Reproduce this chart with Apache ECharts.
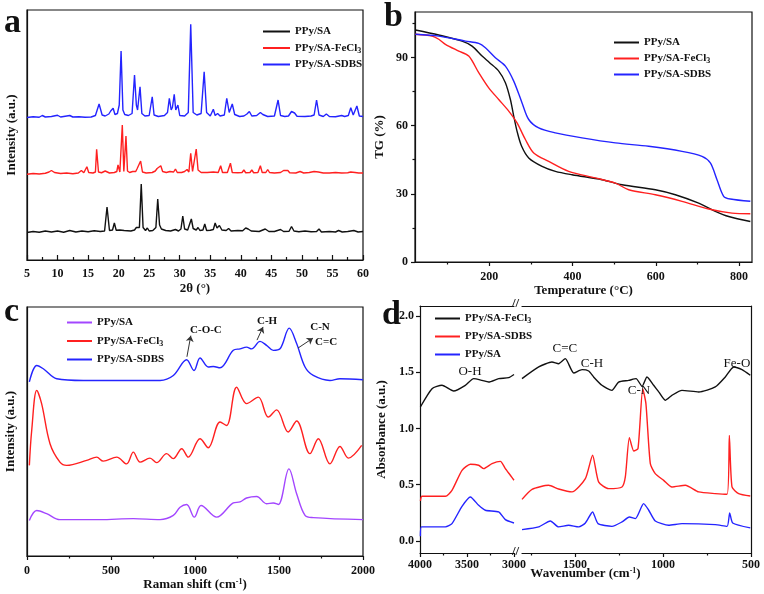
<!DOCTYPE html>
<html><head><meta charset="utf-8">
<script src="https://cdn.jsdelivr.net/npm/echarts@6/dist/echarts.min.js"></script>
<style>html,body{margin:0;padding:0;background:#fff}#c{width:764px;height:594px}</style>
</head><body><div id="c"></div>
<script>
// ---------- (a) XRD ----------
const xrdTicks = [5,10,15,20,25,30,35,40,45,50,55,60];
const xrdMinorTicks = [7.5,12.5,17.5,22.5,27.5,32.5,37.5,42.5,47.5,52.5,57.5];
const xrdSA = [[5,11.0],[6,11.4],[7,11.1],[8,11.6],[9,11.2],[10,11.6],[11,11.1],[12,11.8],[13,11.2],[14,11.6],[15,11.3],[16,11.7],[17,11.4],[17.7,11.6],[18.1,21.2],[18.5,11.8],[19.0,12.0],[19.3,14.8],[19.6,11.9],[20.2,12.0],[20.5,12.8],[20.9,11.8],[22.0,11.6],[22.6,12.0],[22.9,13.0],[23.2,12.2],[23.4,13.0],[23.7,30.4],[24.0,13.0],[24.4,11.8],[24.7,12.8],[25.0,11.6],[25.6,11.8],[26.1,13.0],[26.4,24.4],[26.7,14.0],[27.0,12.4],[27.3,13.0],[27.7,11.8],[28.5,11.6],[29.3,12.2],[29.8,11.6],[30.2,12.4],[30.5,17.6],[30.8,12.4],[31.3,12.0],[31.6,12.8],[31.9,16.4],[32.2,12.6],[32.7,12.0],[33.0,13.0],[33.3,11.8],[33.8,12.0],[34.1,14.4],[34.4,11.8],[35.0,11.9],[35.5,12.2],[35.8,14.8],[36.1,12.8],[36.5,13.8],[36.9,12.0],[37.6,11.8],[38.0,12.6],[38.4,11.6],[39.5,11.8],[40.3,11.7],[40.8,12.8],[41.2,12.4],[41.7,11.6],[43.0,11.4],[44.0,12.4],[44.6,11.4],[45.5,11.4],[46.5,12.2],[47.0,11.4],[47.9,11.5],[48.3,13.4],[48.7,11.6],[49.5,11.3],[50.5,11.6],[51.5,11.3],[52.4,11.4],[52.8,12.4],[53.2,11.2],[54.5,11.4],[55.5,11.2],[56.0,11.8],[56.6,11.2],[57.5,11.4],[58.5,11.8],[59.2,11.2],[60,11.4]];
const xrdFeCl3 = [[5,34.3],[6,34.6],[7,34.4],[8,34.7],[8.6,35.2],[9.0,35.8],[9.5,35.0],[10.5,34.6],[11.5,34.8],[12.5,34.5],[13.4,34.8],[13.9,35.8],[14.3,34.9],[14.6,35.2],[14.8,37.3],[15.1,35.0],[15.8,34.8],[16.2,35.2],[16.4,44.3],[16.7,35.2],[17.2,34.9],[17.8,35.6],[18.1,35.4],[18.5,34.8],[19.3,35.0],[19.7,35.4],[19.9,38.0],[20.2,35.2],[20.35,35.6],[20.6,54.0],[20.85,35.4],[21.0,36.0],[21.2,49.6],[21.45,35.6],[21.8,35.0],[22.3,35.4],[22.6,36.0],[22.8,35.4],[23.0,36.4],[23.3,35.6],[23.6,39.6],[23.9,35.2],[24.5,34.8],[25.5,35.0],[26.0,35.6],[26.3,36.6],[26.6,35.8],[26.9,37.7],[27.2,35.4],[27.8,35.0],[28.4,35.4],[28.7,36.2],[29.0,35.2],[29.3,36.4],[29.6,35.0],[30.3,35.0],[30.8,35.4],[31.2,36.2],[31.5,35.2],[31.8,42.7],[32.1,35.4],[32.4,35.8],[32.7,44.4],[33.0,36.0],[33.5,35.0],[34.5,35.0],[35.5,35.2],[36.3,35.0],[36.7,37.7],[37.0,35.0],[37.8,35.0],[38.3,38.7],[38.6,35.0],[39.5,34.9],[40.2,35.0],[40.5,36.0],[40.8,34.9],[41.5,35.0],[41.8,36.0],[42.1,34.9],[42.8,35.0],[43.2,37.7],[43.5,35.0],[44.1,35.0],[44.4,36.2],[44.7,35.0],[45.5,34.8],[46.5,35.0],[47.0,35.8],[47.3,35.0],[47.7,35.8],[48.0,34.9],[49.0,34.8],[49.7,35.4],[50.3,34.8],[51.2,35.0],[52.0,35.4],[52.7,35.2],[53.5,34.8],[54.5,34.8],[55.5,35.0],[56.5,34.8],[57.5,34.9],[58.0,35.2],[58.3,35.8],[58.7,35.0],[59.3,34.8],[60,34.8]];
const xrdSDBS = [[5,57.0],[6,57.3],[7,57.1],[7.5,57.8],[8,57.2],[9,57.4],[10,57.9],[10.5,57.2],[11.5,57.6],[12,57.8],[12.5,57.2],[13.5,57.3],[14.5,57.1],[15.5,57.2],[16.2,57.8],[16.8,62.4],[17.3,58.0],[17.8,57.6],[18.4,58.4],[18.7,59.6],[18.95,58.8],[19.1,60.7],[19.4,58.2],[19.8,58.6],[20.1,62.0],[20.4,83.6],[20.7,60.0],[21.0,58.2],[21.6,57.8],[22.2,58.6],[22.6,74.0],[22.9,62.0],[23.1,60.0],[23.5,69.3],[23.8,58.6],[24.3,57.6],[25.0,57.8],[25.5,65.3],[25.8,58.0],[26.5,57.4],[27.5,57.8],[28.0,59.0],[28.3,64.7],[28.6,60.0],[28.8,61.0],[29.1,66.3],[29.35,60.0],[29.7,62.0],[30.0,57.8],[30.8,57.6],[31.4,59.0],[31.8,94.3],[32.2,59.0],[32.8,58.0],[33.5,58.6],[34.0,75.3],[34.4,59.0],[35.0,57.6],[35.5,60.3],[35.8,57.8],[36.2,58.6],[36.6,57.6],[37.3,58.0],[37.7,64.7],[38.1,59.0],[38.6,62.4],[39.0,58.2],[39.8,57.4],[40.5,57.6],[41.0,58.4],[41.4,59.4],[41.8,57.6],[42.6,57.8],[43.2,59.0],[43.6,58.2],[44.4,57.4],[45.5,57.6],[46.1,64.0],[46.5,57.8],[47.2,57.4],[47.8,57.6],[48.3,59.4],[48.8,58.8],[49.2,57.5],[50.5,57.4],[51.5,57.6],[52.0,58.0],[52.4,64.0],[52.8,58.0],[53.5,57.4],[54.0,58.4],[54.5,57.4],[55.5,57.3],[56.5,57.8],[57.0,57.4],[57.6,57.8],[58.0,60.9],[58.4,58.0],[58.7,58.4],[59.0,61.6],[59.4,57.6],[60,57.4]];

// ---------- (b) TGA ----------
const tgaXTicks = [200,400,600,800];
const tgaXMinorTicks = [100,300,500,700];
const tgaYTicks = [0,30,60,90];
const tgaYMinorTicks = [15,45,75,105];
const tgaSA = [[23,102.1],[79,99.9],[135,97.2],[159,95],[183,90.6],[201,87.7],[223,84],[239,78.9],[251,71.5],[259,64.2],[267,57.5],[278,50.9],[295,45.8],[327,42.1],[359,39.9],[399,38.4],[471,36.2],[519,34],[599,31.8],[647,29.6],[703,25.9],[743,22.3],[775,20],[827,17.8]];
const tgaFeCl3 = [[23,100.2],[63,99.4],[79,98],[95,95.8],[127,92.8],[151,90.6],[175,83.3],[199,76.6],[223,71.5],[247,66.4],[267,61.2],[287,53.9],[307,48],[343,44.3],[391,39.9],[455,37],[503,34.7],[535,31.8],[599,29.6],[663,26.7],[727,23.3],[783,21.5],[827,21.2]];
const tgaSDBS = [[23,100.2],[79,99.4],[143,97.2],[175,96.2],[191,94.3],[215,89.9],[239,86.2],[259,79.6],[279,70],[295,62.7],[319,59],[359,56.8],[423,54.6],[503,52.4],[583,50.9],[663,48.7],[711,46.5],[731,43.6],[747,36.2],[763,28.9],[779,27.7],[827,26.7]];

// ---------- (c) Raman ----------
const ramanTicks = [0,500,1000,1500,2000];
const ramanMinorTicks = [250,750,1250,1750];
const ramanSA = [[14,14.3],[58,18.3],[117,17],[196,14.6],[434,14.6],[633,15],[792,14.6],[871,16.3],[911,19.6],[950,20.7],[996,15.6],[1036,20.3],[1129,15.6],[1228,21.3],[1268,21.7],[1307,23.3],[1367,23.9],[1426,21],[1466,21.3],[1496,20.7],[1559,35],[1605,25],[1655,16.3],[1704,15.4],[2000,14.6]];
const ramanFeCl3 = [[14,36.4],[28,50.4],[58,66.5],[87,61.2],[137,45.1],[196,37.7],[236,36.4],[355,38.4],[415,39.7],[454,38.1],[534,39.7],[593,37],[633,41.7],[673,37.7],[732,39.3],[772,37.5],[831,41.1],[871,39.1],[921,43.1],[960,39.7],[1030,47.1],[1079,43.5],[1149,53.8],[1188,52.4],[1248,67.8],[1307,61.2],[1377,63.8],[1436,55.8],[1486,58.7],[1555,49.8],[1605,54.2],[1684,41.1],[1734,47.1],[1803,37],[1863,44],[1913,39.3],[1992,44.4]];
const ramanSDBS = [[14,69.9],[58,76.5],[97,75.2],[177,71.2],[335,70.5],[633,70.5],[792,70.5],[871,72.5],[950,78.8],[994,74.5],[1030,79.5],[1079,75.9],[1109,76.1],[1149,75.6],[1228,82.6],[1268,83.2],[1307,83.9],[1337,83.2],[1387,86.2],[1426,84.6],[1466,82.6],[1506,83.2],[1561,91.5],[1605,85.3],[1655,75.9],[1704,72.5],[1803,70.5],[1863,71.2],[2000,70.8]];
const ramanNotes = [['C-O-C',1065,90.8],['C-H',1429,94.4],['C-N',1744,92],['C=C',1780,86]];
const ramanArrows = [[952,80,975,88.5],[1369,86.7,1405,92],[1613,83.5,1702,87.5]];

// ---------- (d) FTIR ----------
const ftirLeftTicks = [4000,3500,3000];
const ftirLeftMinorTicks = [3750,3250];
const ftirRightTicks = [1500,1000,500];
const ftirRightMinorTicks = [1750,1250,750];
const ftirYTicks = [0,0.5,1,1.5,2];
const ftirFeCl3Left = [[3996,1.191],[3872,1.354],[3766,1.384],[3642,1.333],[3518,1.384],[3429,1.443],[3340,1.428],[3270,1.413],[3163,1.443],[3057,1.452],[3000,1.48]];
const ftirFeCl3Right = [[1801,1.443],[1706,1.547],[1631,1.591],[1593,1.576],[1555,1.621],[1507,1.493],[1460,1.523],[1422,1.511],[1394,1.458],[1347,1.384],[1290,1.339],[1252,1.413],[1195,1.428],[1153,1.443],[1119,1.375],[1091,1.458],[1053,1.384],[1024,1.325],[987,1.251],[949,1.295],[892,1.339],[797,1.325],[703,1.369],[646,1.458],[598,1.547],[551,1.523],[504,1.473]];
const ftirSDBSLeft = [[3996,0.356],[3979,0.397],[3730,0.397],[3660,0.45],[3553,0.628],[3464,0.682],[3376,0.673],[3322,0.643],[3234,0.687],[3145,0.708],[3092,0.643],[3039,0.584],[3000,0.54]];
const ftirSDBSRight = [[1801,0.37],[1744,0.459],[1650,0.495],[1593,0.462],[1517,0.436],[1441,0.554],[1400,0.762],[1366,0.525],[1309,0.465],[1233,0.48],[1214,0.569],[1191,0.919],[1166,0.8],[1142,0.821],[1115,1.354],[1097,1.221],[1072,0.687],[1044,0.599],[996,0.539],[949,0.48],[873,0.495],[797,0.436],[703,0.421],[636,0.415],[623,0.939],[608,0.48],[570,0.421],[504,0.4]];
const ftirSALeft = [[3996,0.042],[3985,0.125],[3730,0.125],[3660,0.154],[3553,0.308],[3464,0.391],[3376,0.317],[3305,0.273],[3163,0.258],[3092,0.19],[3000,0.16]];
const ftirSARight = [[1801,0.101],[1706,0.125],[1640,0.178],[1593,0.125],[1536,0.14],[1479,0.125],[1441,0.16],[1400,0.258],[1369,0.154],[1290,0.13],[1233,0.169],[1191,0.213],[1157,0.199],[1110,0.332],[1081,0.273],[1044,0.178],[968,0.14],[892,0.154],[703,0.145],[636,0.13],[621,0.249],[604,0.16],[504,0.116]];
const ftirNotesLeft = [['O-H',3468,1.502]];
const ftirNotesRight = [['C=C',1557,1.707],['C-H',1403,1.573],['C-N',1136,1.333],['Fe-O',580,1.573]];

// ---------- styling ----------
const F = 'Liberation Serif';
const K = '#111111', RED = '#ff2020', BLUE = '#2424ff', PURPLE = '#a346ff';
const AXL = {color:'#111', width:1.2};
const tickFont = {fontFamily:F, fontWeight:'bold', fontSize:12, color:'#111'};
const nameFont = {fontFamily:F, fontWeight:'bold', fontSize:13, color:'#111',
  rich:{sup:{fontFamily:F, fontWeight:'bold', fontSize:8, color:'#111', verticalAlign:'top', padding:[0,0,5,0]}}};
const HIDDEN_LINE = {show:false, onZero:false};

function ax(o){
  return Object.assign({type:'value', splitLine:{show:false},
    axisLine:{show:true, onZero:false, lineStyle:AXL},
    axisTick:{show:false}, axisLabel:{show:false}}, o);
}
function ticks(vals, inside, len){ return {show:true, inside:inside, length:len, customValues:vals, lineStyle:AXL}; }
function labels(vals, margin, fmt){
  return Object.assign({show:true, customValues:vals, margin:margin, formatter: fmt || (v => String(v))}, tickFont);
}

const xAxis = [
  // 0,1 panel a
  ax({gridIndex:0, position:'bottom', min:5, max:60, axisTick:ticks(xrdTicks,true,5), axisLabel:labels(xrdTicks,8),
      name:'2θ (°)', nameLocation:'middle', nameGap:22, nameTextStyle:nameFont}),
  ax({gridIndex:0, position:'bottom', min:5, max:60, axisLine:HIDDEN_LINE, axisTick:ticks(xrdMinorTicks,true,3)}),
  // 2,3 panel b
  ax({gridIndex:1, position:'bottom', min:22, max:831, axisTick:ticks(tgaXTicks,false,4), axisLabel:labels(tgaXTicks,9),
      name:'Temperature (°C)', nameLocation:'middle', nameGap:19, nameTextStyle:nameFont}),
  ax({gridIndex:1, position:'bottom', min:22, max:831, axisLine:HIDDEN_LINE, axisTick:ticks(tgaXMinorTicks,false,2.5)}),
  // 4,5 panel c
  ax({gridIndex:2, position:'bottom', min:0, max:2000, axisTick:ticks(ramanTicks,false,4), axisLabel:labels(ramanTicks,9),
      name:'Raman shift (cm{sup|-1})', nameLocation:'middle', nameGap:21, nameTextStyle:nameFont}),
  ax({gridIndex:2, position:'bottom', min:0, max:2000, axisLine:HIDDEN_LINE, axisTick:ticks(ramanMinorTicks,false,2.5)}),
  // 6,7,8 panel d left
  ax({gridIndex:3, position:'bottom', min:3000, max:4000, inverse:true, axisTick:ticks(ftirLeftTicks,false,4), axisLabel:labels(ftirLeftTicks,6)}),
  ax({gridIndex:3, position:'bottom', min:3000, max:4000, inverse:true, axisLine:HIDDEN_LINE, axisTick:ticks(ftirLeftMinorTicks,false,2.5)}),
  ax({gridIndex:3, position:'top', min:3000, max:4000, inverse:true}),
  // 9,10,11 panel d right
  ax({gridIndex:4, position:'bottom', min:500, max:1801, inverse:true, axisTick:ticks(ftirRightTicks,false,4), axisLabel:labels(ftirRightTicks,6)}),
  ax({gridIndex:4, position:'bottom', min:500, max:1801, inverse:true, axisLine:HIDDEN_LINE, axisTick:ticks(ftirRightMinorTicks,false,2.5)}),
  ax({gridIndex:4, position:'top', min:500, max:1801, inverse:true}),
  // 12 panel d name carrier
  ax({gridIndex:5, position:'bottom', min:0, max:1, axisLine:HIDDEN_LINE,
      name:'Wavenumber (cm{sup|-1})', nameLocation:'middle', nameGap:14, nameTextStyle:nameFont})
];
const yAxis = [
  ax({gridIndex:0, position:'left', min:0, max:100, name:'Intensity (a.u.)', nameLocation:'middle', nameGap:9, nameTextStyle:nameFont}),
  ax({gridIndex:1, position:'left', min:0, max:110, axisTick:ticks(tgaYTicks,false,4), axisLabel:labels(tgaYTicks,7),
      name:'TG (%)', nameLocation:'middle', nameGap:29, nameTextStyle:nameFont}),
  ax({gridIndex:1, position:'left', min:0, max:110, axisLine:HIDDEN_LINE, axisTick:ticks(tgaYMinorTicks,false,2.5)}),
  ax({gridIndex:2, position:'left', min:0, max:100, name:'Intensity (a.u.)', nameLocation:'middle', nameGap:10, nameTextStyle:nameFont}),
  ax({gridIndex:3, position:'left', min:-0.107, max:2.089, axisTick:ticks(ftirYTicks,false,4), axisLabel:labels(ftirYTicks,6,v=>v.toFixed(1)),
      name:'Absorbance (a.u.)', nameLocation:'middle', nameGap:32, nameTextStyle:nameFont}),
  ax({gridIndex:4, position:'right', min:-0.107, max:2.089}),
  ax({gridIndex:5, position:'left', min:0, max:1, axisLine:HIDDEN_LINE})
];

const box = {show:true, borderColor:'#111', borderWidth:1.2, backgroundColor:'transparent'};
const grid = [
  Object.assign({left:27, top:10, width:336, height:250}, box),
  Object.assign({left:415, top:12, width:337, height:250}, box),
  Object.assign({left:27, top:307, width:336, height:249}, box),
  {left:420, top:306, width:94, height:247},
  {left:522, top:306, width:229, height:247},
  {left:420, top:306, width:331, height:247}
];

function line(name, data, xi, yi, color, smooth, extra){
  return Object.assign({type:'line', name:name, data:data, xAxisIndex:xi, yAxisIndex:yi,
    symbol:'none', smooth:smooth, lineStyle:{color:color, width:1.4}, itemStyle:{color:color}}, extra||{});
}
const noteLabel = (size, weight) => ({show:true, position:'inside', color:'#111', fontFamily:F, fontWeight:weight, fontSize:size, formatter:p=>p.name});
function notes(arr, size, weight){
  return {symbol:'circle', symbolSize:1, silent:true, itemStyle:{color:'rgba(0,0,0,0)'},
    label:noteLabel(size, weight), data:arr.map(n=>({name:n[0], coord:[n[1],n[2]]}))};
}

const series = [
  line('PPy/SA', xrdSA, 0, 0, K, false),
  line('PPy/SA-FeCl3', xrdFeCl3, 0, 0, RED, false),
  line('PPy/SA-SDBS', xrdSDBS, 0, 0, BLUE, false),
  line('PPy/SA', tgaSA, 2, 1, K, 0.3),
  line('PPy/SA-FeCl3', tgaFeCl3, 2, 1, RED, 0.3),
  line('PPy/SA-SDBS', tgaSDBS, 2, 1, BLUE, 0.3),
  line('PPy/SA', ramanSA, 4, 3, PURPLE, 0.35),
  line('PPy/SA-FeCl3', ramanFeCl3, 4, 3, RED, 0.35),
  line('PPy/SA-SDBS', ramanSDBS, 4, 3, BLUE, 0.35, {
    markPoint: notes(ramanNotes, 11, 'bold'),
    markLine: {silent:true, symbol:['none','arrow'], symbolSize:6, label:{show:false},
      lineStyle:{color:'#333', width:1, type:'solid'},
      data: ramanArrows.map(a=>[{coord:[a[0],a[1]]},{coord:[a[2],a[3]]}])}
  }),
  line('PPy/SA-FeCl3', ftirFeCl3Left, 6, 4, K, 0.2, {markPoint: notes(ftirNotesLeft, 13, 'normal')}),
  line('PPy/SA-SDBS', ftirSDBSLeft, 6, 4, RED, 0.2),
  line('PPy/SA', ftirSALeft, 6, 4, BLUE, 0.2),
  line('PPy/SA-FeCl3', ftirFeCl3Right, 9, 5, K, 0.2, {markPoint: notes(ftirNotesRight, 13, 'normal')}),
  line('PPy/SA-SDBS', ftirSDBSRight, 9, 5, RED, 0.2),
  line('PPy/SA', ftirSARight, 9, 5, BLUE, 0.2)
];

const legendText = {fontFamily:F, fontWeight:'bold', fontSize:11, color:'#111', lineHeight:13,
  rich:{sub:{fontFamily:F, fontWeight:'bold', fontSize:8, color:'#111', verticalAlign:'bottom'}}};
function legend(left, top, gap, w, items){
  return {left:left, top:top, padding:0, orient:'vertical', icon:'rect', itemWidth:w, itemHeight:2, itemGap:gap,
    selectedMode:false, textStyle:legendText,
    formatter: n => n.replace('FeCl3','FeCl{sub|3}'),
    data: items.map(it=>({name:it[0], itemStyle:{color:it[1]}}))};
}

const letter = (t, x, y) => ({type:'text', left:x, top:y, style:{text:t, font:'bold 34px "Liberation Serif"', fill:'#111'}});
const breakMark = (x, y) => ({type:'text', left:x, top:y, style:{text:'//', font:'bold 13px "Liberation Serif"', fill:'#111'}});

const option = {
  animation:false, backgroundColor:'#fff',
  grid, xAxis, yAxis, series,
  legend: [
    legend(263, 25, 3.5, 27, [['PPy/SA',K],['PPy/SA-FeCl3',RED],['PPy/SA-SDBS',BLUE]]),
    legend(614, 36, 3, 25, [['PPy/SA',K],['PPy/SA-FeCl3',RED],['PPy/SA-SDBS',BLUE]]),
    legend(67, 316, 5.5, 25, [['PPy/SA',PURPLE],['PPy/SA-FeCl3',RED],['PPy/SA-SDBS',BLUE]]),
    legend(435, 312, 5, 25, [['PPy/SA-FeCl3',K],['PPy/SA-SDBS',RED],['PPy/SA',BLUE]])
  ],
  graphic: [
    letter('a', 4, 6), letter('b', 384, 0), letter('c', 4, 295), letter('d', 382, 298),
    breakMark(512, 297), breakMark(512, 545)
  ]
};
const chart = echarts.init(document.getElementById('c'), null, {renderer:'canvas'});
chart.setOption(option);
</script></body></html>
